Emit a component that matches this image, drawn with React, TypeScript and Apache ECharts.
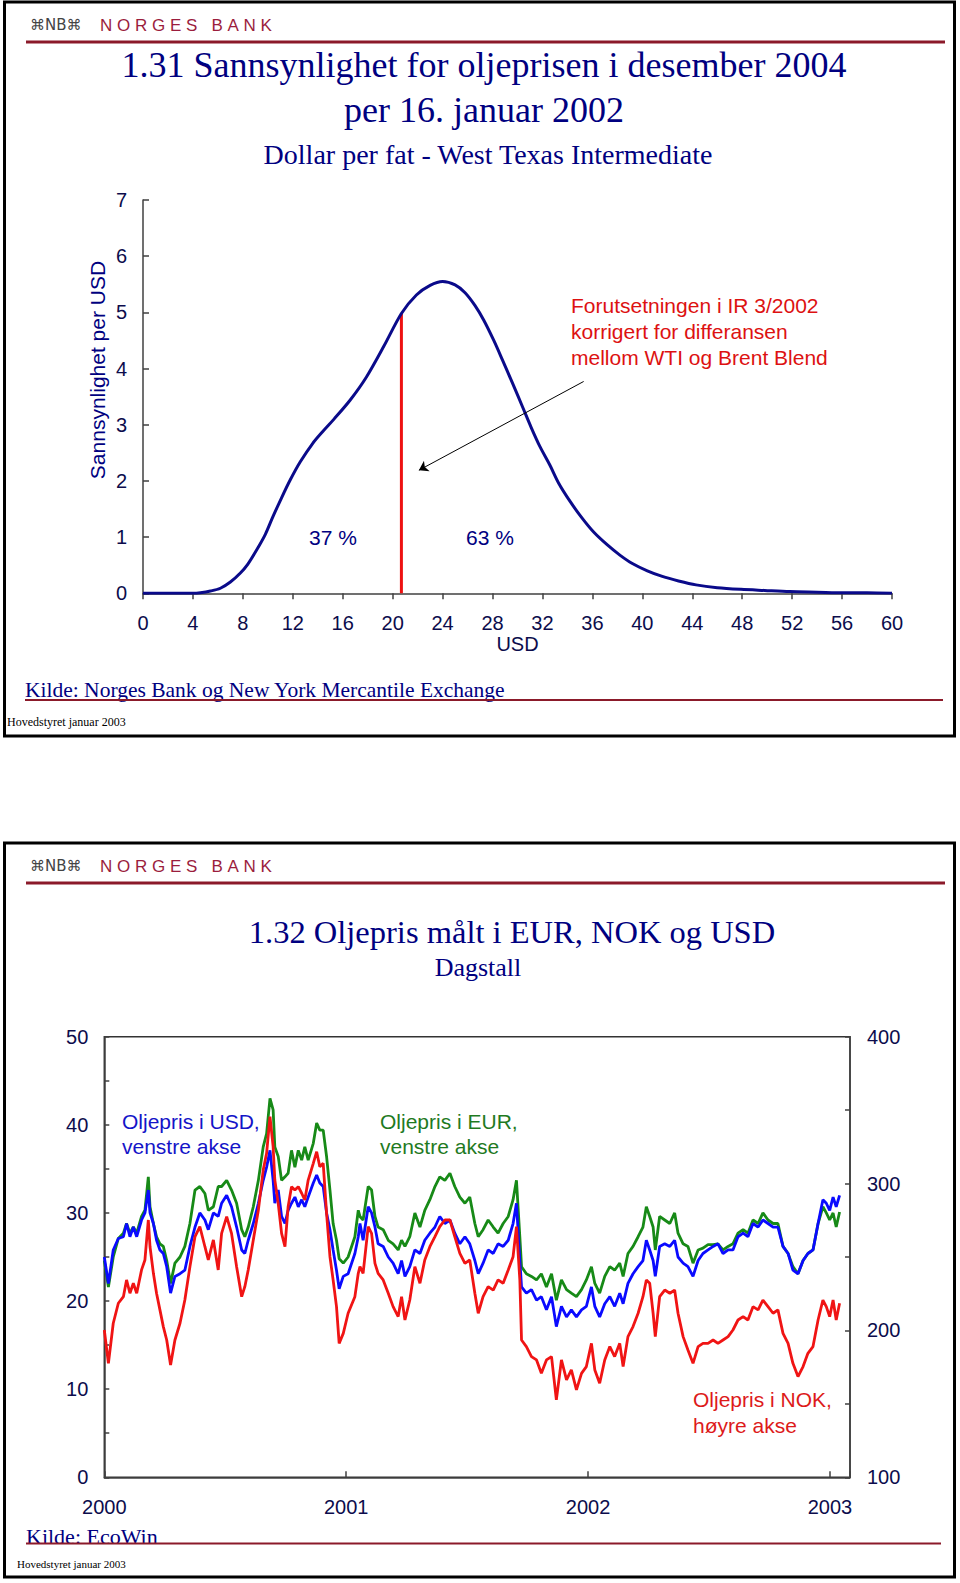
import React, { useEffect, useRef } from "react";
import * as echarts from "echarts";

// ---------- Chart 1.31: probability density of the oil price ----------
const densityUSD = [0, 4, 4.6, 5.4, 6.2, 7.0, 7.8, 8.4, 9.1, 9.8, 10.4, 11.1, 11.8, 12.6, 13.6, 14.4, 15.3, 16.6, 17.9, 19.3, 20.7, 21.9, 23.0, 24.0, 25.0, 25.8, 26.6, 27.3, 28.1, 28.8, 29.6, 30.4, 31.1, 31.8, 32.6, 33.3, 34.2, 35.1, 36.1, 37.2, 38.2, 39.2, 40.4, 41.6, 42.9, 44.3, 46.0, 47.9, 49.8, 51.8, 54.0, 56.2, 58.0, 60.0];
const densityValues = [0, 0, 0.01, 0.04, 0.09, 0.2, 0.36, 0.52, 0.77, 1.05, 1.36, 1.7, 2.02, 2.34, 2.67, 2.88, 3.1, 3.44, 3.85, 4.4, 4.98, 5.31, 5.48, 5.55, 5.49, 5.35, 5.12, 4.86, 4.5, 4.15, 3.74, 3.32, 2.95, 2.61, 2.28, 1.96, 1.64, 1.36, 1.09, 0.86, 0.68, 0.53, 0.4, 0.3, 0.22, 0.15, 0.1, 0.07, 0.05, 0.03, 0.02, 0.01, 0.01, 0];
const cutoffUSD = 20.7;
const cutoffDensity = 4.98;
const arrowFrom = [35.3, 3.77];
const arrowTo = [22.1, 2.19];
const shareLeft = "37 %";
const shareRight = "63 %";

// ---------- Chart 1.32: oil price in EUR, NOK and USD (decimal years) ----------
const years = [
  2000.000, 2000.017, 2000.037, 2000.058, 2000.079, 2000.092, 2000.106, 2000.120, 2000.134, 2000.154,
  2000.168, 2000.182, 2000.189, 2000.203, 2000.216, 2000.230, 2000.244, 2000.258, 2000.274, 2000.292,
  2000.313, 2000.333, 2000.354, 2000.375, 2000.395, 2000.416, 2000.430, 2000.451, 2000.471, 2000.485,
  2000.506, 2000.526, 2000.547, 2000.568, 2000.581, 2000.595, 2000.616, 2000.637, 2000.657, 2000.671,
  2000.685, 2000.698, 2000.705, 2000.719, 2000.733, 2000.747, 2000.760, 2000.774, 2000.788, 2000.802,
  2000.816, 2000.829, 2000.843, 2000.864, 2000.878, 2000.891, 2000.905, 2000.919, 2000.933, 2000.946,
  2000.960, 2000.971, 2000.988, 2001.008,
  2001.036, 2001.050, 2001.057, 2001.070, 2001.091, 2001.105, 2001.119, 2001.132, 2001.153, 2001.174,
  2001.194, 2001.215, 2001.229, 2001.243, 2001.263, 2001.284, 2001.305, 2001.325, 2001.346, 2001.367,
  2001.387, 2001.408, 2001.429, 2001.449, 2001.470, 2001.491, 2001.511, 2001.532, 2001.546, 2001.566,
  2001.587, 2001.608, 2001.628, 2001.649, 2001.670, 2001.690, 2001.704, 2001.718, 2001.725, 2001.745,
  2001.766, 2001.787, 2001.807, 2001.828, 2001.849, 2001.869, 2001.890, 2001.911, 2001.931, 2001.952,
  2001.973, 2001.993, 2002.014,
  2002.028, 2002.048, 2002.069, 2002.090, 2002.110, 2002.131, 2002.145, 2002.165, 2002.186, 2002.207,
  2002.227, 2002.241, 2002.255, 2002.269, 2002.278, 2002.296, 2002.317, 2002.338, 2002.358, 2002.372,
  2002.393, 2002.413, 2002.434, 2002.455, 2002.475, 2002.496, 2002.517, 2002.537, 2002.558, 2002.579,
  2002.599, 2002.620, 2002.641, 2002.661, 2002.682, 2002.703, 2002.723, 2002.744, 2002.765, 2002.785,
  2002.806, 2002.827, 2002.847, 2002.868, 2002.889, 2002.909, 2002.930, 2002.951, 2002.971, 2002.985,
  2002.999, 2003.013, 2003.026, 2003.040,
];
const oilUSD = [
  25.0, 22.0, 25.8, 27.1, 27.3, 28.8, 27.3, 28.4, 27.3, 29.2,
  30.0, 32.6, 30.0, 28.8, 26.9, 25.8, 25.4, 23.9, 20.9, 22.8,
  23.1, 23.5, 26.2, 28.4, 30.0, 29.2, 28.1, 30.0, 29.6, 31.1,
  32.0, 30.7, 28.4, 25.8, 25.4, 26.9, 28.8, 31.1, 33.7, 35.2,
  37.1, 33.7, 31.1, 32.6, 29.6, 28.8, 30.3, 31.1, 31.8, 30.7,
  31.5, 30.7, 31.8, 33.4, 34.3, 33.4, 33.0, 30.0, 28.1, 25.8,
  23.5, 21.4, 22.8, 23.1,
  25.4, 27.3, 28.8, 26.9, 30.7, 30.0, 28.4, 26.5, 26.2, 25.0,
  24.3, 23.1, 24.6, 22.8, 23.9, 25.8, 25.4, 26.9, 27.7, 28.4,
  29.6, 28.8, 29.2, 27.7, 26.5, 27.3, 26.5, 24.6, 23.1, 24.3,
  25.8, 25.4, 26.5, 26.2, 26.9, 28.8, 31.1, 24.6, 21.6, 20.9,
  21.3, 20.1, 20.5, 19.0, 20.5, 17.1, 19.4, 18.2, 19.0, 18.2,
  19.0, 19.4, 21.6,
  19.4, 18.2, 19.7, 20.5, 19.4, 20.9, 19.7, 22.0, 23.1, 23.9,
  24.6, 26.9, 25.8, 24.6, 22.8, 26.2, 26.5, 26.2, 26.9, 25.0,
  24.3, 23.9, 22.8, 24.6, 25.4, 25.8, 26.2, 26.5, 25.4, 25.8,
  25.8, 27.3, 27.7, 27.3, 28.8, 28.4, 29.2, 28.8, 28.4, 28.4,
  26.2, 25.4, 23.5, 23.1, 24.6, 25.4, 25.8, 28.8, 31.5, 31.1,
  30.3, 31.8, 30.7, 32.0,
];
const oilEUR = [
  24.6, 21.6, 25.0, 27.1, 27.7, 28.8, 27.7, 28.4, 27.7, 29.6,
  30.3, 34.1, 30.7, 28.8, 27.3, 26.5, 26.2, 24.6, 22.0, 24.3,
  25.0, 26.2, 28.8, 32.6, 33.0, 32.2, 30.3, 30.7, 33.0, 33.0,
  33.7, 32.6, 31.1, 28.1, 27.3, 28.4, 30.7, 33.7, 37.5, 39.0,
  43.0, 41.7, 37.5, 36.4, 33.7, 34.1, 34.5, 37.1, 35.2, 37.1,
  36.0, 37.5, 36.0, 37.9, 40.2, 39.4, 39.4, 36.4, 32.6, 28.8,
  26.9, 24.8, 24.3, 25.0,
  27.3, 30.3, 29.6, 29.2, 33.0, 32.6, 29.6, 28.4, 28.1, 26.9,
  26.5, 25.8, 26.9, 26.2, 27.3, 30.0, 28.4, 30.3, 31.5, 33.0,
  34.1, 33.7, 34.5, 33.0, 31.8, 31.1, 31.8, 28.8, 27.3, 28.1,
  29.2, 28.4, 27.7, 28.8, 29.6, 31.5, 33.7, 27.3, 23.9, 23.1,
  22.8, 22.4, 23.1, 21.6, 23.1, 20.1, 22.4, 21.3, 20.9, 20.5,
  21.3, 22.4, 23.9,
  22.0, 20.9, 22.8, 23.9, 23.5, 24.3, 22.8, 25.4, 26.2, 27.3,
  28.4, 30.7, 29.6, 28.4, 25.8, 29.6, 29.2, 28.8, 30.0, 27.7,
  26.5, 26.2, 24.3, 25.8, 26.0, 26.4, 26.4, 26.5, 25.8, 26.2,
  26.5, 27.7, 28.1, 27.7, 29.2, 28.8, 30.0, 29.2, 28.8, 28.8,
  26.2, 25.4, 23.9, 23.1, 24.6, 25.4, 25.8, 28.8, 30.7, 30.0,
  29.2, 30.0, 28.4, 30.1,
];
const oilNOK = [
  200.3, 177.6, 204.9, 218.5, 223.0, 234.4, 225.3, 232.1, 225.3, 241.2,
  248.0, 275.2, 257.0, 238.9, 225.3, 214.0, 202.6, 193.5, 176.5, 193.5,
  204.9, 220.7, 243.4, 263.9, 270.7, 257.0, 248.0, 261.6, 241.2, 266.1,
  277.5, 266.1, 243.4, 223.0, 229.8, 241.2, 261.6, 282.0, 309.2, 320.6,
  345.5, 325.1, 302.4, 286.5, 266.1, 257.0, 284.3, 297.9, 295.6, 297.9,
  293.4, 288.8, 302.4, 313.8, 321.7, 311.5, 313.8, 279.7, 250.2, 234.4,
  216.2, 191.2, 198.0, 211.7,
  223.0, 238.9, 243.4, 238.9, 270.7, 266.1, 245.7, 238.9, 234.4, 225.3,
  216.2, 209.4, 223.0, 207.1, 220.7, 243.4, 232.1, 248.0, 257.0, 263.9,
  270.7, 275.2, 275.2, 263.9, 252.5, 245.7, 248.0, 225.3, 211.7, 223.0,
  229.8, 227.5, 234.4, 232.1, 241.2, 250.2, 270.7, 234.4, 193.5, 189.0,
  182.2, 179.9, 170.8, 179.9, 182.2, 152.7, 179.9, 166.3, 173.1, 159.5,
  170.8, 175.4, 191.2,
  173.1, 164.0, 179.9, 189.0, 182.2, 191.2, 175.4, 195.8, 202.6, 211.7,
  223.0, 234.4, 232.1, 211.7, 195.8, 223.0, 227.5, 225.3, 227.5, 211.7,
  195.8, 186.7, 177.6, 189.0, 191.2, 191.2, 193.5, 191.2, 193.5, 195.8,
  200.3, 207.1, 209.4, 207.1, 216.2, 214.0, 220.7, 216.2, 211.7, 214.0,
  198.0, 191.2, 177.6, 168.6, 175.4, 184.4, 189.0, 207.1, 220.7, 216.2,
  209.4, 220.7, 207.1, 218.5,
];

const SANS = "'Liberation Sans', Arial, sans-serif";
const SERIF = "'Liberation Serif', 'Times New Roman', serif";
const NAVY = "#000080";
const LABEL = "#0c0c4c";
const AXIS = "#404040";
const MAROON = "#8b1a2a";

function txt(text: string, x: number, y: number, size: number, fill: string, family: string, align = "left", vAlign = "middle", lineHeight?: number) {
  const style: any = { text, fill, fontSize: size, fontFamily: family, align, verticalAlign: vAlign };
  if (lineHeight) style.lineHeight = lineHeight;
  return { type: "text", x, y, z: 100, style };
}

function panelHeader(top: number): any[] {
  return [
    { type: "rect", shape: { x: 4.5, y: top + 2, width: 950, height: 734 }, style: { fill: "none", stroke: "#000", lineWidth: 3 }, z: 100 },
    txt("\u2318NB\u2318", 30, top + 25, 15, "#444", "'DejaVu Sans', sans-serif"),
    txt("N\u00a0O\u00a0R\u00a0G\u00a0E\u00a0S\u00a0\u00a0\u00a0B\u00a0A\u00a0N\u00a0K", 100, top + 25, 17, "#9b1d3d", SANS),
    { type: "line", shape: { x1: 26, y1: top + 42, x2: 945, y2: top + 42 }, style: { stroke: MAROON, lineWidth: 3 }, z: 100 },
  ];
}

export default function App() {
  const ref = useRef<HTMLDivElement>(null);

  useEffect(() => {
    if (!ref.current) return;
    const chart = echarts.init(ref.current, undefined, { renderer: "svg" });

    const tickLabel = { color: LABEL, fontSize: 20, fontFamily: SANS };

    const yName: any = txt("Sannsynlighet per USD", 97, 370, 21, NAVY, SANS, "center");
    yName.rotation = Math.PI / 2;

    const graphic: any[] = [
      ...panelHeader(0),
      txt("1.31 Sannsynlighet for oljeprisen i desember 2004", 484, 65, 36, NAVY, SERIF, "center"),
      txt("per 16. januar 2002", 484, 110, 36, NAVY, SERIF, "center"),
      txt("Dollar per fat - West Texas Intermediate", 488, 154, 28, NAVY, SERIF, "center"),
      yName,
      txt(shareLeft, 333, 537, 21, NAVY, SANS, "center"),
      txt(shareRight, 490, 537, 21, NAVY, SANS, "center"),
      txt("Forutsetningen i IR 3/2002\nkorrigert for differansen\nmellom WTI og Brent Blend", 571, 292, 21, "#dd1111", SANS, "left", "top", 26),
      txt("Kilde: Norges Bank og New York Mercantile Exchange", 25, 690, 21.5, NAVY, SERIF),
      { type: "line", shape: { x1: 25, y1: 700, x2: 943, y2: 700 }, style: { stroke: MAROON, lineWidth: 2 }, z: 100 },
      txt("Hovedstyret januar 2003", 7, 722, 12, "#000", SERIF),

      ...panelHeader(841),
      txt("1.32 Oljepris målt i EUR, NOK og USD", 512, 932, 32.5, NAVY, SERIF, "center"),
      txt("Dagstall", 478, 967, 26, NAVY, SERIF, "center"),
      txt("Oljepris i USD,\nvenstre akse", 122, 1109, 21, "#1414c8", SANS, "left", "top", 25),
      txt("Oljepris i EUR,\nvenstre akse", 380, 1109, 21, "#1f7a1f", SANS, "left", "top", 25),
      txt("Oljepris i NOK,\nhøyre akse", 693, 1387, 21, "#dd1a1a", SANS, "left", "top", 25.7),
      txt("Kilde: EcoWin", 26, 1536, 22, NAVY, SERIF),
      { type: "line", shape: { x1: 26, y1: 1543.5, x2: 941, y2: 1543.5 }, style: { stroke: MAROON, lineWidth: 2 }, z: 100 },
      txt("Hovedstyret januar 2003", 17, 1564, 11, "#000", SERIF),
    ];

    const axisLine = { show: true, onZero: false, lineStyle: { color: AXIS, width: 1.5 } };

    chart.setOption({
      animation: false,
      backgroundColor: "#fff",
      grid: [
        { left: 143, top: 200, width: 749, height: 393.3, show: false, outerBoundsMode: "none" },
        { left: 104.3, top: 1036.7, width: 745.7, height: 440.6, show: true, borderColor: "#333", borderWidth: 1.5, backgroundColor: "transparent", outerBoundsMode: "none" },
      ],
      xAxis: [
        {
          gridIndex: 0, type: "value", min: 0, max: 60, interval: 4,
          name: "USD", nameLocation: "middle", nameGap: 40,
          nameTextStyle: { color: LABEL, fontSize: 20, fontFamily: SANS },
          axisLine, axisTick: { show: true, inside: false, length: 6, lineStyle: { color: AXIS, width: 1.5 } },
          axisLabel: { ...tickLabel, margin: 20 }, splitLine: { show: false },
        },
        {
          gridIndex: 1, type: "value", min: 2000, max: 2003.083, interval: 1,
          axisLine, axisTick: { show: true, inside: true, length: 6, lineStyle: { color: AXIS, width: 1.5 } },
          axisLabel: {
            ...tickLabel, margin: 20,
            formatter: (v: number) => (Math.abs(v - Math.round(v)) < 1e-6 ? String(Math.round(v)) : ""),
          },
          splitLine: { show: false },
        },
      ],
      yAxis: [
        {
          gridIndex: 0, type: "value", min: 0, max: 7, interval: 1,
          axisLine, axisTick: { show: true, inside: true, length: 6, lineStyle: { color: AXIS, width: 1.5 } },
          axisLabel: { ...tickLabel, margin: 16 }, splitLine: { show: false },
        },
        {
          gridIndex: 1, type: "value", min: 0, max: 50, interval: 5, position: "left",
          axisLine, axisTick: { show: true, inside: true, length: 5, lineStyle: { color: AXIS, width: 1.5 } },
          axisLabel: { ...tickLabel, margin: 16, formatter: (v: number) => (v % 10 === 0 ? String(v) : "") },
          splitLine: { show: false },
        },
        {
          gridIndex: 1, type: "value", min: 100, max: 400, interval: 50, position: "right",
          axisLine, axisTick: { show: true, inside: true, length: 5, lineStyle: { color: AXIS, width: 1.5 } },
          axisLabel: { ...tickLabel, margin: 17, formatter: (v: number) => (v % 100 === 0 ? String(v) : "") },
          splitLine: { show: false },
        },
      ],
      series: [
        {
          name: "Sannsynlighet", type: "line", xAxisIndex: 0, yAxisIndex: 0,
          data: densityUSD.map((x, i) => [x, densityValues[i]]),
          smooth: 0.3, symbol: "none", z: 3,
          lineStyle: { color: "#0a0a8a", width: 3 },
        },
        {
          name: "Forutsetning", type: "line", xAxisIndex: 0, yAxisIndex: 0,
          data: [[cutoffUSD, 0], [cutoffUSD, cutoffDensity]],
          symbol: "none", z: 2, lineStyle: { color: "#ee1111", width: 3 },
          markLine: {
            silent: true, symbol: ["none", "arrow"], symbolSize: 9,
            lineStyle: { color: "#000", width: 1, type: "solid" },
            label: { show: false },
            data: [[{ coord: arrowFrom }, { coord: arrowTo }]],
          },
        },
        {
          name: "Oljepris i EUR", type: "line", xAxisIndex: 1, yAxisIndex: 1,
          data: years.map((t, i) => [t, oilEUR[i]]),
          symbol: "none", lineStyle: { color: "#178a17", width: 2.8 },
        },
        {
          name: "Oljepris i USD", type: "line", xAxisIndex: 1, yAxisIndex: 1,
          data: years.map((t, i) => [t, oilUSD[i]]),
          symbol: "none", lineStyle: { color: "#0a0aff", width: 2.8 },
        },
        {
          name: "Oljepris i NOK", type: "line", xAxisIndex: 1, yAxisIndex: 2,
          data: years.map((t, i) => [t, oilNOK[i]]),
          symbol: "none", lineStyle: { color: "#f01414", width: 2.8 },
        },
      ],
      graphic,
    });

    return () => chart.dispose();
  }, []);

  return <div ref={ref} style={{ position: "absolute", left: 0, top: 0, width: 960, height: 1583 }} />;
}
